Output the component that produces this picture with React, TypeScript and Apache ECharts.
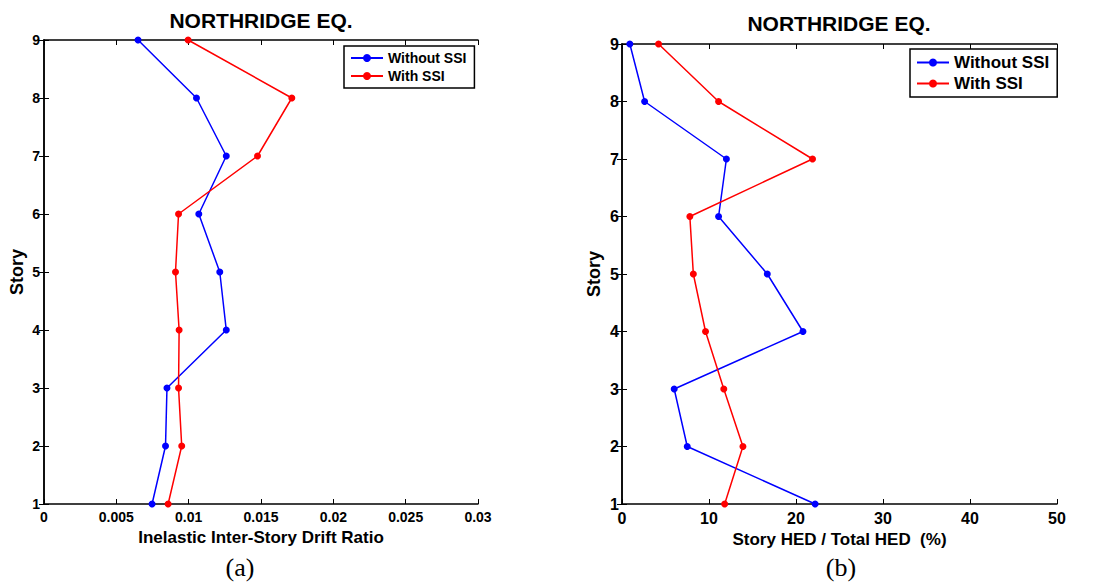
import React, { useEffect, useRef } from "react";
import * as echarts from "echarts";

const stories = [1, 2, 3, 4, 5, 6, 7, 8, 9];
const driftWithout = [0.00747, 0.0084, 0.0085, 0.0126, 0.01215, 0.0107, 0.0126, 0.01054, 0.0065];
const driftWith = [0.00858, 0.00952, 0.0093, 0.00934, 0.00909, 0.0093, 0.01476, 0.01713, 0.00996];
const hedWithout = [22.2, 7.5, 6.0, 20.8, 16.7, 11.1, 12.0, 2.6, 0.9];
const hedWith = [11.8, 13.9, 11.7, 9.6, 8.2, 7.8, 21.9, 11.1, 4.2];
const seriesNames = ["Without SSI", "With SSI"];
const titleText = "NORTHRIDGE EQ.";
const xNameA = "Inelastic Inter-Story Drift Ratio";
const xNameB = "Story HED / Total HED  (%)";
const yName = "Story";

const FONT = '"Liberation Sans", Arial, sans-serif';

function pairs(xs: number[]) {
  return xs.map((x, i) => [x, stories[i]]);
}

function axisBase(extra: any) {
  return {
    type: "value",
    axisLine: { show: true, lineStyle: { color: "#000", width: 1.5 } },
    axisTick: { show: true, inside: true, length: 5, lineStyle: { color: "#000", width: 1 } },
    splitLine: { show: false },
    ...extra,
  };
}

export default function App() {
  const ref = useRef<HTMLDivElement>(null);
  useEffect(() => {
    const chart = echarts.init(ref.current!, null, { renderer: "svg" });
    const labelA = { color: "#000", fontWeight: "bold", fontSize: 14, fontFamily: FONT };
    const labelB = { color: "#000", fontWeight: "bold", fontSize: 16, fontFamily: FONT };
    const nameStyle = (size: number) => ({ color: "#000", fontWeight: "bold", fontSize: size, fontFamily: FONT });
    const option: any = {
      animation: false,
      backgroundColor: "#fff",
      grid: [
        { left: 44, top: 40, width: 434, height: 464 },
        { left: 622, top: 44, width: 435, height: 460 },
      ],
      xAxis: [
        axisBase({
          gridIndex: 0, position: "bottom", min: 0, max: 0.03, interval: 0.005,
          axisLabel: { ...labelA, margin: 6, formatter: (v: number) => String(+v.toFixed(3)) },
          name: xNameA, nameLocation: "middle", nameGap: 24, nameTextStyle: nameStyle(17),
        }),
        axisBase({ gridIndex: 0, position: "top", min: 0, max: 0.03, interval: 0.005, axisLabel: { show: false } }),
        axisBase({
          gridIndex: 1, position: "bottom", min: 0, max: 50, interval: 10,
          axisLabel: { ...labelB, margin: 6 },
          name: xNameB, nameLocation: "middle", nameGap: 25, nameTextStyle: nameStyle(17),
        }),
        axisBase({ gridIndex: 1, position: "top", min: 0, max: 50, interval: 10, axisLabel: { show: false } }),
      ],
      yAxis: [
        axisBase({
          gridIndex: 0, position: "left", min: 1, max: 9, interval: 1,
          axisLabel: { ...labelA, margin: 4 },
          name: yName, nameLocation: "middle", nameGap: 18, nameTextStyle: nameStyle(18),
        }),
        axisBase({ gridIndex: 0, position: "right", min: 1, max: 9, interval: 1, axisLabel: { show: false } }),
        axisBase({
          gridIndex: 1, position: "left", min: 1, max: 9, interval: 1,
          axisLabel: { ...labelB, margin: 3 },
          name: yName, nameLocation: "middle", nameGap: 19, nameTextStyle: nameStyle(18),
        }),
        axisBase({ gridIndex: 1, position: "right", min: 1, max: 9, interval: 1, axisLabel: { show: false } }),
      ],
      legend: [
        {
          data: seriesNames, orient: "vertical", left: 344, top: 46,
          borderColor: "#000", borderWidth: 1.5, backgroundColor: "#fff",
          padding: [5, 8, 5, 6], itemGap: 4, itemWidth: 32, itemHeight: 10,
          textStyle: { color: "#000", fontWeight: "bold", fontSize: 14, fontFamily: FONT },
        },
        {
          data: seriesNames, orient: "vertical", left: 910, top: 49,
          borderColor: "#000", borderWidth: 1.5, backgroundColor: "#fff",
          padding: [5, 8, 5, 6], itemGap: 4, itemWidth: 32, itemHeight: 10,
          textStyle: { color: "#000", fontWeight: "bold", fontSize: 17, fontFamily: FONT },
        },
      ],
      series: [
        { name: seriesNames[0], type: "line", xAxisIndex: 0, yAxisIndex: 0, data: pairs(driftWithout), color: "#0000ff" },
        { name: seriesNames[1], type: "line", xAxisIndex: 0, yAxisIndex: 0, data: pairs(driftWith), color: "#ff0000" },
        { name: seriesNames[0], type: "line", xAxisIndex: 2, yAxisIndex: 2, data: pairs(hedWithout), color: "#0000ff" },
        { name: seriesNames[1], type: "line", xAxisIndex: 2, yAxisIndex: 2, data: pairs(hedWith), color: "#ff0000" },
      ].map((s) => ({
        ...s,
        symbol: "circle",
        symbolSize: 7,
        showSymbol: true,
        lineStyle: { width: 1.5, color: s.color },
        itemStyle: { color: s.color },
      })),
      graphic: [
        { type: "text", x: 261, y: 20, style: { text: titleText, fill: "#000", font: `bold 21px ${FONT}`, align: "center", verticalAlign: "middle" } },
        { type: "text", x: 839, y: 23, style: { text: titleText, fill: "#000", font: `bold 21px ${FONT}`, align: "center", verticalAlign: "middle" } },
        { type: "text", x: 240, y: 567, style: { text: "(a)", fill: "#000", font: `26px "Liberation Serif", serif`, align: "center", verticalAlign: "middle" } },
        { type: "text", x: 841, y: 567, style: { text: "(b)", fill: "#000", font: `26px "Liberation Serif", serif`, align: "center", verticalAlign: "middle" } },
      ],
    };
    chart.setOption(option);
    return () => chart.dispose();
  }, []);
  return (
    <div
      ref={ref}
      style={{ position: "fixed", left: 0, top: 0, width: 1101, height: 583, background: "#fff" }}
    />
  );
}
